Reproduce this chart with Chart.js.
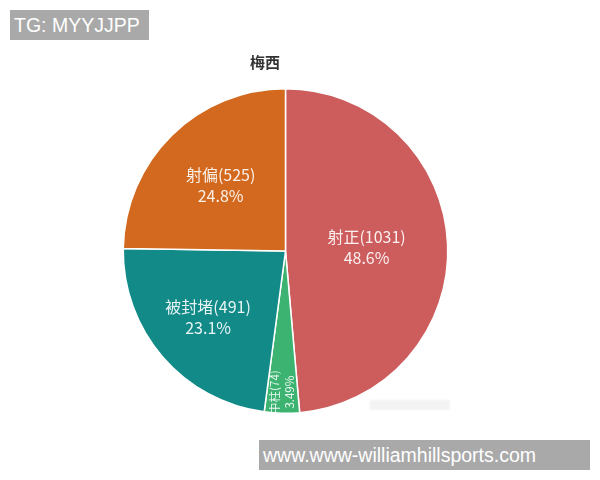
<!DOCTYPE html>
<html><head><meta charset="utf-8">
<script src="https://cdn.jsdelivr.net/npm/chart.js@4"></script>
<style>
html,body{margin:0;padding:0;background:#fff;}
#wrap{position:relative;width:600px;height:480px;overflow:hidden;}
canvas{position:absolute;left:0;top:0;}
.wm{position:absolute;background:#a9a9a9;color:#fff;font-family:"Liberation Sans",Arial,sans-serif;font-size:19.5px;line-height:30px;padding-left:4px;box-sizing:border-box;white-space:nowrap;}
#smudge{position:absolute;left:370px;top:400px;width:80px;height:10px;background:#f3f3f3;filter:blur(1px);}
</style></head>
<body><div id="wrap">
<canvas id="c" width="600" height="480"></canvas>
<div id="smudge"></div>
<div class="wm" style="left:10px;top:10px;width:139px;height:30px;">TG: MYYJJPP</div>
<div class="wm" style="left:259px;top:440px;width:331px;height:30px;">www.www-williamhillsports.com</div>
</div>
<script>
const titleText = '梅西';
const categories = ['射正', '中柱', '被封堵', '射偏'];
const counts = [1031, 74, 491, 525];
const percentLabels = ['48.6%', '3.49%', '23.1%', '24.8%'];
const colors = ['#cd5c5c', '#3cb371', '#118a88', '#d2691e'];
const labelRadius = [0.5, 0.87, 0.63, 0.57];

const labelPlugin = {
  id: 'sliceLabels',
  afterDatasetsDraw(chart) {
    const ctx = chart.ctx;
    const meta = chart.getDatasetMeta(0);
    meta.data.forEach((arc, i) => {
      const p = arc.getProps(['x','y','startAngle','endAngle','outerRadius'], true);
      const mid = (p.startAngle + p.endAngle) / 2;
      const span = p.endAngle - p.startAngle;
      const small = span < 0.3;
      const rf = labelRadius[i];
      const lx = p.x + Math.cos(mid) * p.outerRadius * rf;
      const ly = p.y + Math.sin(mid) * p.outerRadius * rf;
      const l1 = categories[i] + '(' + counts[i] + ')';
      const l2 = percentLabels[i];
      ctx.save();
      ctx.fillStyle = 'rgba(255,255,255,0.9)';
      ctx.textAlign = 'center';
      ctx.textBaseline = 'middle';
      if (small) {
        ctx.translate(lx, ly);
        ctx.rotate(-Math.PI / 2);
        ctx.font = '11.5px "Noto Sans CJK SC", "Liberation Sans", sans-serif';
        ctx.fillText(l1, 0, -7.5);
        ctx.fillText(l2, 0, 7.5);
      } else {
        ctx.font = '16px "Noto Sans CJK SC", "Liberation Sans", sans-serif';
        ctx.fillText(l1, lx, ly - 10.5);
        ctx.fillText(l2, lx, ly + 10.5);
      }
      ctx.restore();
    });
    ctx.save();
    ctx.fillStyle = '#333';
    ctx.font = 'bold 15px "Noto Sans CJK SC", sans-serif';
    ctx.textAlign = 'center';
    ctx.textBaseline = 'middle';
    ctx.fillText(titleText, 265, 62);
    ctx.restore();
  }
};

new Chart(document.getElementById('c'), {
  type: 'pie',
  data: {
    labels: categories,
    datasets: [{
      data: counts,
      backgroundColor: colors,
      borderColor: '#ffffff',
      borderWidth: 1.5
    }]
  },
  options: {
    responsive: false,
    animation: false,
    layout: { padding: { top: 88, bottom: 66, left: 122, right: 151 } },
    plugins: {
      legend: { display: false },
      tooltip: { enabled: false },
      title: { display: false }
    }
  },
  plugins: [labelPlugin]
});
</script>
</body></html>
